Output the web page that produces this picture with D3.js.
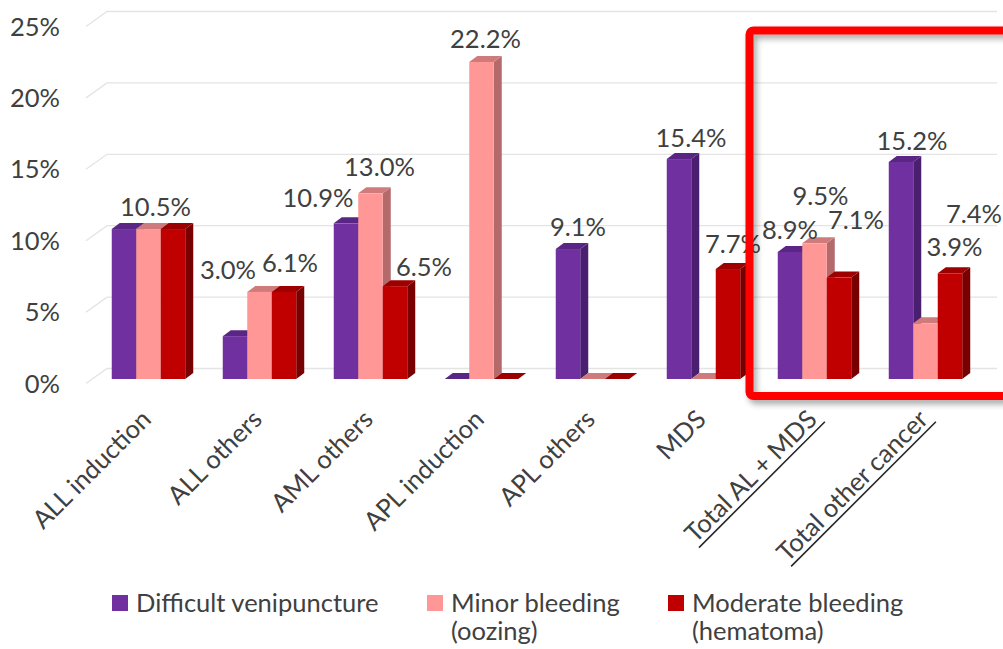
<!DOCTYPE html>
<html>
<head>
<meta charset="utf-8">
<script src="https://cdn.jsdelivr.net/npm/d3@7"></script>
<style>
  html, body { margin: 0; padding: 0; background: #ffffff; }
  svg { display: block; font-family: Lato, "Open Sans", sans-serif; }
</style>
</head>
<body>
<svg id="chart" width="1003" height="649"></svg>
<script>
// Categories along the x axis
const categories = [
  "ALL induction", "ALL others", "AML others", "APL induction",
  "APL others", "MDS", "Total AL + MDS", "Total other cancer"
];
// Categories whose axis label is underlined
const underlinedCategories = ["Total AL + MDS", "Total other cancer"];

// Series (percent of patients)
const seriesNames = ["Difficult venipuncture", "Minor bleeding\n(oozing)", "Moderate bleeding\n(hematoma)"];
const difficultVenipuncture = [10.5, 3.0, 10.9, 0.0, 9.1, 15.4, 8.9, 15.2];
const minorBleeding         = [10.5, 6.1, 13.0, 22.2, 0.0, 0.0, 9.5, 3.9];
const moderateBleeding      = [10.5, 6.1, 6.5, 0.0, 0.0, 7.7, 7.1, 7.4];
const seriesValues = [difficultVenipuncture, minorBleeding, moderateBleeding];

// Y axis ticks
const yTicks = [0, 5, 10, 15, 20, 25];

// Which bars carry a value label: [category index, series index]
const labelledBars = [
  [0, 1], [1, 0], [1, 2], [2, 0], [2, 1], [2, 2], [3, 1], [4, 0],
  [5, 0], [5, 2], [6, 0], [6, 1], [6, 2], [7, 0], [7, 1], [7, 2]
];
// Layout: offsets of each value label from its bar's top-front centre (same order)
const labelOffsets = [
  [7, -13], [-7, -57], [6, -20], [-28, -16], [9, -17], [29, -10], [4, -14], [10, -13],
  [12, -12], [5, -16], [0, -13], [6, -38], [17, -49], [11, -12], [29, -67], [24, -50]
];

// Styling
const faceColors = [
  { front: "#7030a0", top: "#5a2686", side: "#4b1f70" },
  { front: "#ff9797", top: "#cf7b7b", side: "#b46a6a" },
  { front: "#c00000", top: "#9c0000", side: "#780000" }
];
const textColor = "#404040";
const gridColor = "#e4e4e4";
const fontSize = 25.5;
const depthX = 8, depthY = -6;       // extrusion of each bar
const wallX = 21, wallY = -15;       // depth of the floor/side wall

const svg = d3.select("#chart");

const x = d3.scaleBand().domain(categories).range([93, 981])
  .paddingInner(0.338).paddingOuter(0.169);
const xs = d3.scaleBand().domain(d3.range(seriesValues.length)).range([0, x.bandwidth()]);
const y = d3.scaleLinear().domain([0, 25]).range([379, 22]);

// Back wall and left wall gridlines
const frontEdgeX = 86, gridRight = 997;
const grid = svg.append("g");
yTicks.forEach(t => {
  const yf = y(t) + 4.5;
  grid.append("path")
    .attr("d", `M${frontEdgeX},${yf} L${frontEdgeX + wallX},${yf + wallY} L${gridRight},${yf + wallY}`)
    .attr("fill", "none").attr("stroke", gridColor).attr("stroke-width", 1.3);
});

// Y axis labels
svg.append("g").selectAll("text").data(yTicks).join("text")
  .attr("x", 60).attr("y", d => y(d) + 4.5 + 9)
  .attr("text-anchor", "end").attr("fill", textColor)
  .attr("font-size", fontSize).text(d => d + "%");

// 3D bars
const bars = svg.append("g");
categories.forEach((c, ci) => {
  seriesValues.forEach((vals, si) => {
    const v = vals[ci];
    const x0 = x(c) + xs(si), w = xs.bandwidth();
    const yt = y(v), yb = y(0);
    const col = faceColors[si];
    const g = bars.append("g");
    g.append("path")
      .attr("d", `M${x0 + w},${yt} L${x0 + w + depthX},${yt + depthY} L${x0 + w + depthX},${yb + depthY} L${x0 + w},${yb} Z`)
      .attr("fill", col.side);
    g.append("path")
      .attr("d", `M${x0},${yt} L${x0 + depthX},${yt + depthY} L${x0 + w + depthX},${yt + depthY} L${x0 + w},${yt} Z`)
      .attr("fill", col.top);
    if (v > 0) {
      g.append("rect").attr("x", x0).attr("y", yt).attr("width", w).attr("height", yb - yt)
        .attr("fill", col.front);
    }
  });
});

// Value labels
svg.append("g").selectAll("text").data(labelledBars).join("text")
  .attr("x", (d, i) => x(categories[d[0]]) + xs(d[1]) + xs.bandwidth() / 2 + labelOffsets[i][0])
  .attr("y", (d, i) => y(seriesValues[d[1]][d[0]]) + labelOffsets[i][1])
  .attr("text-anchor", "middle").attr("fill", textColor).attr("font-size", fontSize)
  .text(d => seriesValues[d[1]][d[0]].toFixed(1) + "%");

// Highlight frame around the totals
const defs = svg.append("defs");
const f = defs.append("filter").attr("id", "frameShadow")
  .attr("x", "-5%").attr("y", "-5%").attr("width", "115%").attr("height", "115%");
f.append("feDropShadow").attr("dx", 3).attr("dy", 4).attr("stdDeviation", 3)
  .attr("flood-color", "#000").attr("flood-opacity", 0.35);
svg.append("rect")
  .attr("x", 749.5).attr("y", 30.5).attr("width", 280).attr("height", 365.5)
  .attr("rx", 4)
  .attr("fill", "none").attr("stroke", "#ff0000").attr("stroke-width", 8)
  .attr("filter", "url(#frameShadow)");

// Category labels, rotated
const xl = svg.append("g").selectAll("g").data(categories).join("g")
  .attr("transform", d => `translate(${x(d) + x.bandwidth() / 2 + 4},${421}) rotate(-45)`);
xl.append("text").attr("text-anchor", "end").attr("fill", textColor)
  .attr("font-size", fontSize).text(d => d);
xl.filter(d => underlinedCategories.includes(d)).each(function () {
  const t = d3.select(this).select("text");
  const len = t.node().getComputedTextLength();
  d3.select(this).append("line")
    .attr("x1", -len).attr("x2", 4).attr("y1", 5).attr("y2", 5)
    .attr("stroke", "#262626").attr("stroke-width", 1.6);
});

// Legend
const legendItems = [
  { x: 112, text: seriesNames[0] },
  { x: 427, text: seriesNames[1] },
  { x: 668, text: seriesNames[2] }
];
const lg = svg.append("g").selectAll("g").data(legendItems).join("g")
  .attr("transform", d => `translate(${d.x},0)`);
lg.append("rect").attr("x", 0).attr("y", 595).attr("width", 16).attr("height", 16)
  .attr("fill", (d, i) => faceColors[i].front);
lg.append("text").attr("fill", textColor).attr("font-size", fontSize)
  .selectAll("tspan").data(d => d.text.split("\n")).join("tspan")
  .attr("x", 24).attr("y", (d, i) => 612 + i * 28).text(d => d);
</script>
</body>
</html>
